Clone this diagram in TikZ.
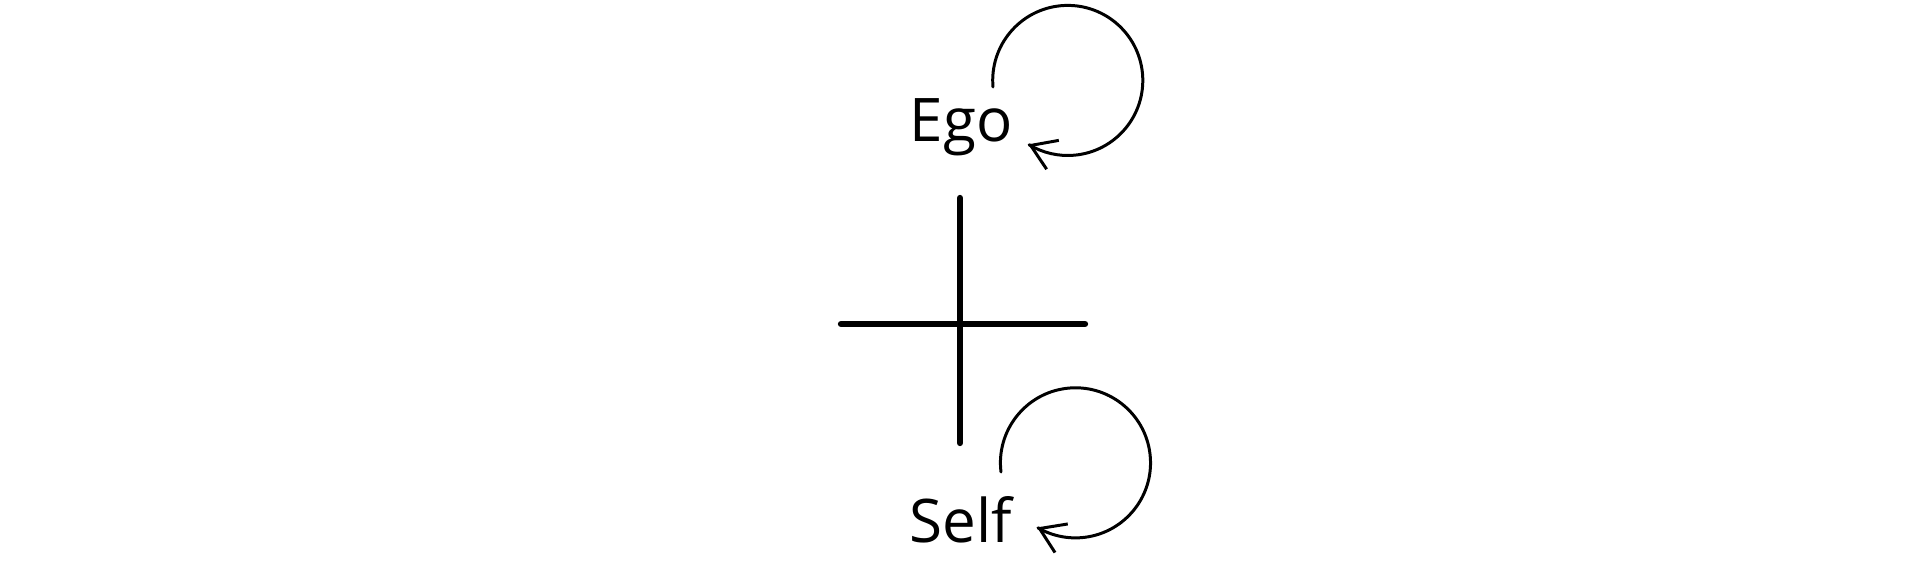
\documentclass[tikz,border=0pt]{standalone}
\usepackage{fontspec}
\setmainfont{Open Sans}
\usetikzlibrary{arrows.meta}

\begin{document}
\begin{tikzpicture}[line cap=round,line join=round,x=0.01cm,y=0.01cm,
  labeltext/.style={anchor=base west,inner sep=0pt,font=\fontsize{17.1}{20}\selectfont},
  looparrow/.style={line width=0.85pt,-{Straight Barb[length=6.8pt,width=8.9pt]}}]
\useasboundingbox (0,0) rectangle (1920,561);

% cross
\coordinate (left) at (841,237);
\coordinate (right) at (1085,237);
\coordinate (top) at (960,363);
\coordinate (bottom) at (960,118);
\draw [line width=1.8pt] (left) -- (right);
\draw [line width=1.8pt] (top) -- (bottom);

% labels
\node [labeltext] (ego) at (909,419) {Ego};
\node [labeltext] (self) at (909,18) {Self};

% loops (last short piece sets the head's direction)
\coordinate (egoloop) at (993,474);
\coordinate (selfloop) at (1001,89);
\draw [looparrow] (egoloop) arc[start angle=185, end angle=-121, radius=0.75cm] -- ++(157:1);
\draw [looparrow] (selfloop) arc[start angle=187, end angle=-120, radius=0.75cm] -- ++(156:1);
\end{tikzpicture}
\end{document}
